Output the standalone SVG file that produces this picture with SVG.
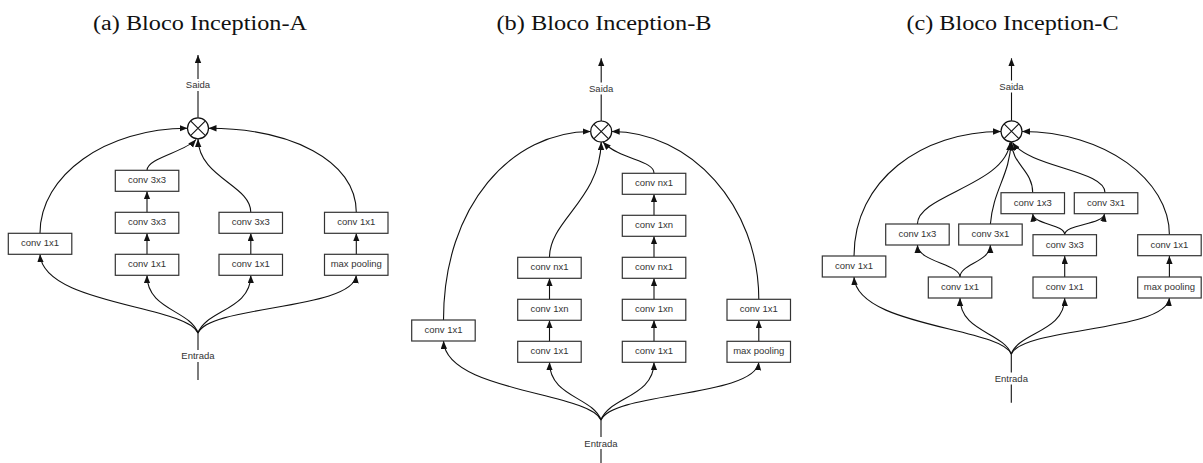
<svg xmlns="http://www.w3.org/2000/svg" width="1203" height="463" viewBox="0 0 1203 463">
<defs>
<style>
.box{fill:#fff;stroke:#333;stroke-width:1.2}
.lbl{font-family:"Liberation Sans",Arial,sans-serif;font-size:9.5px;fill:#333;text-anchor:middle}
.edge{fill:none;stroke:#111;stroke-width:1.1}
.arr{marker-end:url(#ah)}
.title{font-family:"Liberation Serif","Times New Roman",serif;font-size:20.5px;fill:#111;text-anchor:middle}
.sum{fill:#fff;stroke:#111;stroke-width:1.2}
.bg{fill:#fff}
</style>
<marker id="ah" markerUnits="userSpaceOnUse" markerWidth="9" markerHeight="7" refX="8" refY="3.2" orient="auto">
<path d="M0,0 L8,3.2 L0,6.4 z" fill="#111"/>
</marker>
</defs>
<rect width="1203" height="463" fill="#fff"/>

<text class="title" x="200" y="29.5" textLength="214" lengthAdjust="spacingAndGlyphs">(a) Bloco Inception-A</text>
<text class="title" x="604" y="30" textLength="215" lengthAdjust="spacingAndGlyphs">(b) Bloco Inception-B</text>
<text class="title" x="1012.5" y="29.5" textLength="212" lengthAdjust="spacingAndGlyphs">(c) Bloco Inception-C</text>

<g id="connectors">
<!-- Panel A -->
<path class="edge arr" d="M198,117.8 L198,55"/>
<path class="edge" d="M198,380 L198,333"/>
<path class="edge arr" d="M198,333 C186,305 43,305 40,254.3"/>
<path class="edge arr" d="M198,333 C190,310 147,310 147,275.3"/>
<path class="edge arr" d="M198,333 C206,310 250.8,310 250.8,275.3"/>
<path class="edge arr" d="M198,333 C210,305 353,310 356.3,275.3"/>
<path class="edge arr" d="M147,254.3 L147,233.3"/>
<path class="edge arr" d="M147,212.3 L147,191.3"/>
<path class="edge arr" d="M250.8,254.3 L250.8,233.3"/>
<path class="edge arr" d="M356.3,254.3 L356.3,233.3"/>
<path class="edge arr" d="M40,233.3 C40,175 106,128.3 187.5,128.3"/>
<path class="edge arr" d="M356.3,212.3 C356.3,160 290,128.3 208.5,128.3"/>
<path class="edge arr" d="M147,170.3 C147,158 185,152 196,139.5"/>
<path class="edge arr" d="M250.8,212.3 C250.8,185 199,178 198,139"/>

<!-- Panel B -->
<path class="edge arr" d="M601.2,121 L601.2,58.3"/>
<path class="edge" d="M601,463 L601,420"/>
<path class="edge arr" d="M601,420 C589,392 446,392 443.5,341"/>
<path class="edge arr" d="M601,420 C593,397 549.5,397 549.5,362.3"/>
<path class="edge arr" d="M601,420 C609,397 654,397 654,362.3"/>
<path class="edge arr" d="M601,420 C613,392 755,397 758.8,362.3"/>
<path class="edge arr" d="M549.5,341.3 L549.5,320.3"/>
<path class="edge arr" d="M549.5,299.3 L549.5,278.3"/>
<path class="edge arr" d="M654,341.3 L654,320.3"/>
<path class="edge arr" d="M654,299.3 L654,278.3"/>
<path class="edge arr" d="M654,257.3 L654,236.3"/>
<path class="edge arr" d="M654,215.3 L654,194.3"/>
<path class="edge arr" d="M758.8,341.3 L758.8,320.3"/>
<path class="edge arr" d="M443.5,320 C443.5,205 512,131.5 590.7,131.5"/>
<path class="edge arr" d="M758.8,299.3 C758.8,205 690,131.5 611.7,131.5"/>
<path class="edge arr" d="M549.5,257.3 C549.5,220 600,200 601.2,142"/>
<path class="edge arr" d="M654,173.3 C654,160 620,160 603,142"/>

<!-- Panel C -->
<path class="edge arr" d="M1011.5,120.8 L1011.5,58.3"/>
<path class="edge" d="M1011.3,402.7 L1011.3,354"/>
<path class="edge arr" d="M1011.3,354 C999,327 857,327 854,277"/>
<path class="edge arr" d="M1011.3,354 C1003,332 960,332 960,298"/>
<path class="edge arr" d="M1011.3,354 C1019,332 1064.7,332 1064.7,298"/>
<path class="edge arr" d="M1011.3,354 C1023,327 1166,332 1169.4,298"/>
<path class="edge arr" d="M960,277 C960,264 918,262 917.4,245"/>
<path class="edge arr" d="M960,277 C960,264 990,262 990.4,245"/>
<path class="edge arr" d="M1064.7,277 L1064.7,256"/>
<path class="edge arr" d="M1064.7,234.7 C1064.7,224 1034,225 1032.7,213.7"/>
<path class="edge arr" d="M1064.7,234.7 C1064.7,224 1103,225 1104.5,213.7"/>
<path class="edge arr" d="M1169.4,277 L1169.4,256"/>
<path class="edge arr" d="M854,256 C854,180 922,131.5 1001,131.5"/>
<path class="edge arr" d="M1169.4,234.7 C1169.4,180 1105,131.5 1022,131.5"/>
<path class="edge arr" d="M917.4,224 C917.4,195 1006,185 1010,142.5"/>
<path class="edge arr" d="M990.4,224 C993,190 1010,175 1011,142"/>
<path class="edge arr" d="M1032.7,192.7 C1032.7,170 1012,165 1011.5,142"/>
<path class="edge arr" d="M1105,192.7 C1105,170 1030,168 1012.5,142.5"/>

<!-- edge labels -->
<rect class="bg" x="184" y="79" width="28" height="12"/>
<text class="lbl" x="198" y="88.4">Saida</text>
<rect class="bg" x="180" y="350" width="36" height="12"/>
<text class="lbl" x="198" y="359.4">Entrada</text>
<rect class="bg" x="587" y="82.5" width="28" height="12"/>
<text class="lbl" x="601.2" y="91.7">Saida</text>
<rect class="bg" x="583" y="437" width="36" height="12"/>
<text class="lbl" x="601" y="446.7">Entrada</text>
<rect class="bg" x="997.5" y="80.5" width="28" height="12"/>
<text class="lbl" x="1011.5" y="89.6">Saida</text>
<rect class="bg" x="993.3" y="372.5" width="36" height="12"/>
<text class="lbl" x="1011.3" y="381.7">Entrada</text>
</g>

<!-- Sum nodes -->
<g id="sumA"><circle class="sum" cx="198" cy="128.3" r="10.5"/><path class="edge" d="M190.6,120.9 L205.4,135.7 M205.4,120.9 L190.6,135.7"/></g>
<g id="sumB"><circle class="sum" cx="601.2" cy="131.5" r="10.5"/><path class="edge" d="M593.8,124.1 L608.6,138.9 M608.6,124.1 L593.8,138.9"/></g>
<g id="sumC"><circle class="sum" cx="1011.5" cy="131.3" r="10.5"/><path class="edge" d="M1004.1,123.9 L1018.9,138.7 M1018.9,123.9 L1004.1,138.7"/></g>

<!-- Panel A nodes -->
<g id="a1"><rect class="box" x="8.3" y="233.3" width="63.5" height="21"/><text class="lbl" x="40" y="246.3">conv 1x1</text></g>
<g id="a2a"><rect class="box" x="115.3" y="170.3" width="63.5" height="21"/><text class="lbl" x="147" y="183.3">conv 3x3</text></g>
<g id="a2b"><rect class="box" x="115.3" y="212.3" width="63.5" height="21"/><text class="lbl" x="147" y="225.3">conv 3x3</text></g>
<g id="a2c"><rect class="box" x="115.3" y="254.3" width="63.5" height="21"/><text class="lbl" x="147" y="267.3">conv 1x1</text></g>
<g id="a3a"><rect class="box" x="219" y="212.3" width="63.5" height="21"/><text class="lbl" x="250.8" y="225.3">conv 3x3</text></g>
<g id="a3b"><rect class="box" x="219" y="254.3" width="63.5" height="21"/><text class="lbl" x="250.8" y="267.3">conv 1x1</text></g>
<g id="a4a"><rect class="box" x="324.5" y="212.3" width="63.5" height="21"/><text class="lbl" x="356.3" y="225.3">conv 1x1</text></g>
<g id="a4b"><rect class="box" x="324.5" y="254.3" width="63.5" height="21"/><text class="lbl" x="356.3" y="267.3">max pooling</text></g>

<!-- Panel B nodes -->
<g id="b1"><rect class="box" x="411.7" y="320" width="63.5" height="21"/><text class="lbl" x="443.5" y="333">conv 1x1</text></g>
<g id="b2a"><rect class="box" x="517.7" y="257.3" width="63.5" height="21"/><text class="lbl" x="549.5" y="270.3">conv nx1</text></g>
<g id="b2b"><rect class="box" x="517.7" y="299.3" width="63.5" height="21"/><text class="lbl" x="549.5" y="312.3">conv 1xn</text></g>
<g id="b2c"><rect class="box" x="517.7" y="341.3" width="63.5" height="21"/><text class="lbl" x="549.5" y="354.3">conv 1x1</text></g>
<g id="b3a"><rect class="box" x="622.3" y="173.3" width="63.5" height="21"/><text class="lbl" x="654" y="186.3">conv nx1</text></g>
<g id="b3b"><rect class="box" x="622.3" y="215.3" width="63.5" height="21"/><text class="lbl" x="654" y="228.3">conv 1xn</text></g>
<g id="b3c"><rect class="box" x="622.3" y="257.3" width="63.5" height="21"/><text class="lbl" x="654" y="270.3">conv nx1</text></g>
<g id="b3d"><rect class="box" x="622.3" y="299.3" width="63.5" height="21"/><text class="lbl" x="654" y="312.3">conv 1xn</text></g>
<g id="b3e"><rect class="box" x="622.3" y="341.3" width="63.5" height="21"/><text class="lbl" x="654" y="354.3">conv 1x1</text></g>
<g id="b4a"><rect class="box" x="727" y="299.3" width="63.5" height="21"/><text class="lbl" x="758.8" y="312.3">conv 1x1</text></g>
<g id="b4b"><rect class="box" x="727" y="341.3" width="63.5" height="21"/><text class="lbl" x="758.8" y="354.3">max pooling</text></g>

<!-- Panel C nodes -->
<g id="c1"><rect class="box" x="822.3" y="256" width="63.5" height="21"/><text class="lbl" x="854" y="269">conv 1x1</text></g>
<g id="c2a"><rect class="box" x="885.7" y="224" width="63.5" height="21"/><text class="lbl" x="917.4" y="237">conv 1x3</text></g>
<g id="c2b"><rect class="box" x="958.7" y="224" width="63.5" height="21"/><text class="lbl" x="990.4" y="237">conv 3x1</text></g>
<g id="c2c"><rect class="box" x="928.3" y="277" width="63.5" height="21"/><text class="lbl" x="960" y="290">conv 1x1</text></g>
<g id="c3a"><rect class="box" x="1001" y="192.7" width="63.5" height="21"/><text class="lbl" x="1032.7" y="205.7">conv 1x3</text></g>
<g id="c3b"><rect class="box" x="1074.3" y="192.7" width="63.5" height="21"/><text class="lbl" x="1106" y="205.7">conv 3x1</text></g>
<g id="c3c"><rect class="box" x="1033" y="234.7" width="63.5" height="21"/><text class="lbl" x="1064.7" y="247.7">conv 3x3</text></g>
<g id="c3d"><rect class="box" x="1033" y="277" width="63.5" height="21"/><text class="lbl" x="1064.7" y="290">conv 1x1</text></g>
<g id="c4a"><rect class="box" x="1137.7" y="234.7" width="63.5" height="21"/><text class="lbl" x="1169.4" y="247.7">conv 1x1</text></g>
<g id="c4b"><rect class="box" x="1137.7" y="277" width="63.5" height="21"/><text class="lbl" x="1169.4" y="290">max pooling</text></g>
</svg>
